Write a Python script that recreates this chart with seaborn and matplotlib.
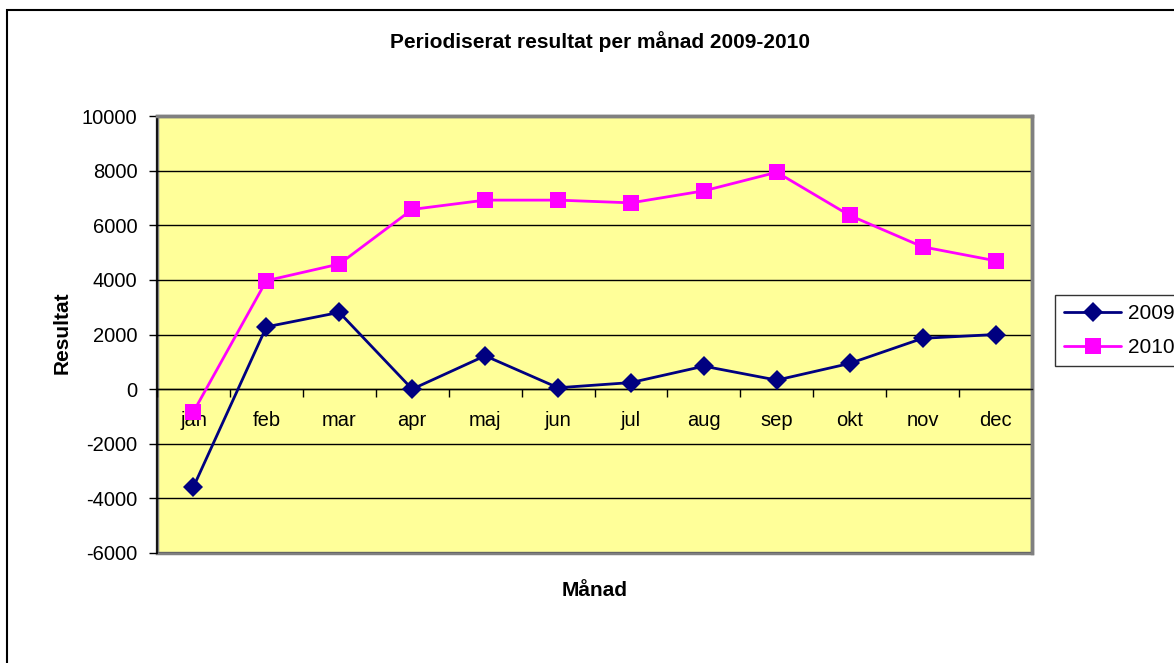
import numpy as np
import pandas as pd
import matplotlib
matplotlib.use("Agg")
import matplotlib.pyplot as plt
import seaborn as sns
from matplotlib.patches import Rectangle

months = ['jan', 'feb', 'mar', 'apr', 'maj', 'jun', 'jul', 'aug', 'sep', 'okt', 'nov', 'dec']
res_2009 = [-3580, 2280, 2810, 0, 1220, 50, 240, 840, 330, 940, 1860, 2000]
res_2010 = [-830, 3970, 4580, 6580, 6920, 6920, 6820, 7260, 7940, 6360, 5210, 4700]
years = ['2009', '2010']
y_ticks = list(range(-6000, 10001, 2000))

df = pd.DataFrame({
    'Månad': months * 2,
    'Resultat': res_2009 + res_2010,
    'År': ['2009'] * 12 + ['2010'] * 12,
})

sns.set_theme(style='white')
plt.rcParams['font.family'] = ['Liberation Sans', 'DejaVu Sans']
plt.rcParams['text.color'] = 'black'
plt.rcParams['xtick.color'] = 'black'
plt.rcParams['ytick.color'] = 'black'

fig = plt.figure(figsize=(11.74, 6.63), dpi=100)
ax = fig.add_axes([157/1174, 1 - 553/663, 875/1174, 437/663])
ax.set_facecolor('#FFFF99')

# outer chart border
fig.patches.append(Rectangle((7/1174, -0.02), 1.02, 1 - 10/663 + 0.02,
                             transform=fig.transFigure, fill=False,
                             edgecolor='black', linewidth=1.5, zorder=0))

for y in y_ticks:
    ax.axhline(y, color='black', linewidth=1, zorder=1)

sns.lineplot(data=df, x='Månad', y='Resultat', hue='År', style='År',
             palette={'2009': '#000080', '2010': '#FF00FF'},
             markers={'2009': 'D', '2010': 's'}, dashes=False,
             markersize=10, linewidth=2, markeredgewidth=0,
             ax=ax, legend=False, zorder=3)
for ln in ax.lines:
    if ln.get_marker() == 'D':
        ln.set_markersize(10)
    elif ln.get_marker() == 's':
        ln.set_markersize(11)

ax.set_xlim(-0.5, 11.5)
ax.set_ylim(-6000, 10000)
ax.set_yticks(y_ticks)
ax.set_yticklabels([str(v) for v in y_ticks], fontsize=14.5)
ax.tick_params(axis='y', direction='out', length=6, width=1, color='black',
               pad=8, left=True)

# category axis crosses at zero
ax.spines['bottom'].set_position(('data', 0))
ax.spines['bottom'].set_color('black')
ax.spines['bottom'].set_linewidth(1)
ax.set_xticks(range(12))
ax.set_xticklabels(months, fontsize=14.5)
ax.set_xticks(np.arange(-0.5, 12, 1), minor=True)
ax.tick_params(axis='x', which='major', length=0, pad=16)
ax.tick_params(axis='x', which='minor', direction='out', length=6, width=1,
               color='black', bottom=True)
ax.set_xlabel('')
ax.set_ylabel('')

ax.spines['left'].set_color('black')
ax.spines['left'].set_linewidth(1.2)
for s in ['top', 'right']:
    ax.spines[s].set_color('#808080')
    ax.spines[s].set_linewidth(2.5)
ax.add_patch(Rectangle((0, 0), 1, 1, transform=ax.transAxes, fill=False,
                       edgecolor='#808080', linewidth=2.5, zorder=0.5,
                       clip_on=False))

fig.text(600/1174, 1 - 42/663, 'Periodiserat resultat per månad 2009-2010',
         ha='center', va='center', fontsize=15, fontweight='bold')
fig.text(595/1174, 1 - 590/663, 'Månad', ha='center', va='center',
         fontsize=15, fontweight='bold')
fig.text(62/1174, 1 - 333/663, 'Resultat', ha='center', va='center',
         rotation=90, fontsize=15, fontweight='bold')

handles = [plt.Line2D([], [], color='#000080', marker='D', markersize=10,
                      markeredgewidth=0, linewidth=2),
           plt.Line2D([], [], color='#FF00FF', marker='s', markersize=11,
                      markeredgewidth=0, linewidth=2)]
leg = fig.legend(handles, years, loc='upper left',
                 bbox_to_anchor=(1055/1174, 1 - 295/663),
                 fontsize=15, frameon=True, fancybox=False,
                 handlelength=2.7, handletextpad=0.35, borderpad=0.45,
                 labelspacing=0.7, borderaxespad=0)
leg.get_frame().set_edgecolor('black')
leg.get_frame().set_linewidth(1)

fig.savefig('out.png', dpi=100)
